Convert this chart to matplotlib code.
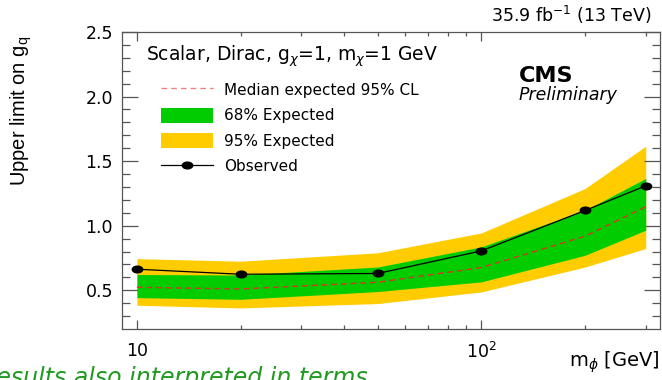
import numpy as np
import matplotlib
matplotlib.use("Agg")
import matplotlib.pyplot as plt
from matplotlib.path import Path
from matplotlib.lines import Line2D
from matplotlib.patches import Patch
from matplotlib.ticker import FixedLocator, NullFormatter

# ---- data ----
mass = [10, 20, 50, 100, 200, 300]
observed = [0.663, 0.624, 0.630, 0.805, 1.118, 1.309]
expected = [0.523, 0.510, 0.562, 0.676, 0.919, 1.146]
exp68_lo = [0.443, 0.430, 0.490, 0.565, 0.771, 0.965]
exp68_hi = [0.622, 0.618, 0.680, 0.836, 1.120, 1.366]
exp95_lo = [0.384, 0.363, 0.397, 0.487, 0.680, 0.823]
exp95_hi = [0.745, 0.725, 0.790, 0.944, 1.288, 1.616]

xtick_vals = [10, 100]
xtick_labels = ["10", "10$^{2}$"]
ytick_vals = [0.5, 1.0, 1.5, 2.0, 2.5]
ytick_labels = ["0.5", "1.0", "1.5", "2.0", "2.5"]

W, H = 662, 380
fig = plt.figure(figsize=(W / 100, H / 100), dpi=100)
fig.patch.set_facecolor("white")

L, R, T, B = 122, 660, 32, 329
ax = fig.add_axes([L / W, 1 - B / H, (R - L) / W, (B - T) / H])

GREEN = "#00cc00"
YELLOW = "#ffcc00"
RED = "#e0302a"

ax.fill_between(mass, exp95_lo, exp95_hi, color=YELLOW, lw=0, zorder=1)
ax.fill_between(mass, exp68_lo, exp68_hi, color=GREEN, lw=0, zorder=2)
ax.plot(mass, expected, color=RED, lw=1.0, ls=(0, (4, 3)), zorder=3)

# ellipse marker (horizontally stretched dot)
circ = Path.unit_circle()
ell = Path(circ.vertices * np.array([1.55, 1.0]), circ.codes)
ax.plot(mass, observed, color="black", lw=0.9, marker=ell, ms=7.5, zorder=4)

ax.set_xscale("log")
ax.set_xlim(9.05, 330)
ax.set_ylim(0.2, 2.5)

ax.xaxis.set_major_locator(FixedLocator(xtick_vals))
ax.set_xticklabels(xtick_labels)
ax.xaxis.set_minor_locator(FixedLocator([20, 30, 40, 50, 60, 70, 80, 90, 200, 300]))
ax.xaxis.set_minor_formatter(NullFormatter())
ax.yaxis.set_major_locator(FixedLocator(ytick_vals))
ax.set_yticklabels(ytick_labels)
ax.yaxis.set_minor_locator(FixedLocator(np.arange(0.3, 2.5, 0.1)))

SPC = "#555555"
for s in ax.spines.values():
    s.set_color(SPC)
    s.set_linewidth(0.9)
ax.tick_params(which="both", direction="in", top=True, right=True, color=SPC, width=0.9,
               labelsize=12.5, labelcolor="black")
ax.tick_params(axis="y", which="major", length=11.5, pad=6.5)
ax.tick_params(axis="y", which="minor", length=5.8)
ax.tick_params(axis="x", which="major", length=6.5, pad=9)
ax.tick_params(axis="x", which="minor", length=3.2)

# legend
handles = [
    Line2D([], [], color="#f08080", lw=1.0, ls=(0, (4, 3))),
    Patch(facecolor=GREEN, edgecolor="none"),
    Patch(facecolor=YELLOW, edgecolor="none"),
    Line2D([], [], color="black", lw=0.9, marker=ell, ms=7.5),
]
labels = ["Median expected 95% CL", "68% Expected", "95% Expected", "Observed"]
fs_leg = 11
leg = ax.legend(handles, labels, loc="upper left",
                bbox_to_anchor=(161 / W, 1 - 82 / H), bbox_transform=fig.transFigure,
                frameon=False, fontsize=fs_leg, handlelength=3.4, handleheight=1.15,
                handletextpad=0.75, labelspacing=0.64, borderpad=0, borderaxespad=0,
                numpoints=1)

# texts
fig.text(146 / W, 1 - 61 / H, r"Scalar, Dirac, g$_{\chi}$=1, m$_{\chi}$=1 GeV",
         fontsize=13.5, ha="left", va="baseline")
fig.text(651 / W, 1 - 22 / H, r"35.9 fb$^{-1}$ (13 TeV)", fontsize=12.5,
         ha="right", va="baseline")
fig.text(519 / W, 1 - 82 / H, "CMS", fontsize=16, fontweight="bold",
         ha="left", va="baseline")
fig.text(519 / W, 1 - 100 / H, "Preliminary", fontsize=12.5, style="italic",
         ha="left", va="baseline")
fig.text(660 / W, 1 - 367 / H, r"m$_{\phi}$ [GeV]", fontsize=14,
         ha="right", va="baseline")
fig.text(21 / W, 1 - 36 / H, r"Upper limit on g$_\mathregular{q}$",
         family=["Liberation Sans", "DejaVu Sans"], fontsize=14.5,
         rotation=90, ha="center", va="top")
fig.text(368 / W, 1 - 385 / H, "Results also interpreted in terms", fontsize=17,
         style="italic", color="#1f9a1f", ha="right", va="baseline")

fig.savefig("out.png", dpi=100, facecolor="white")
